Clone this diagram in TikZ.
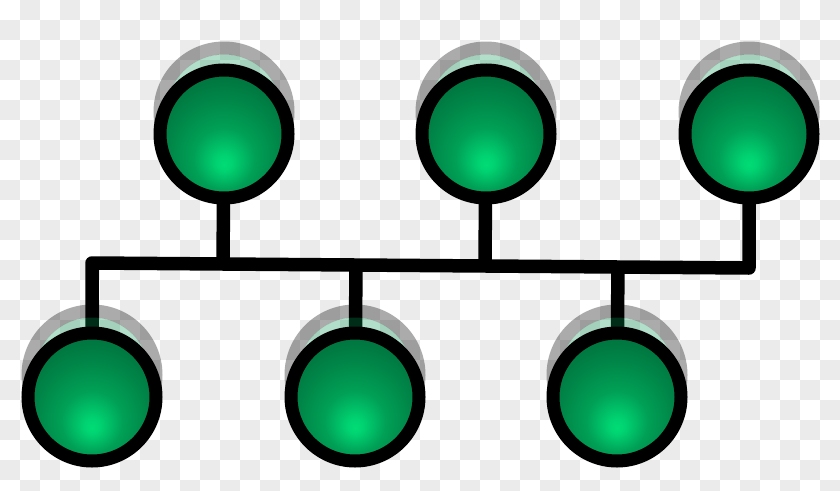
\documentclass[tikz,border=0pt]{standalone}
\usetikzlibrary{calc}
\definecolor{checkgray}{RGB}{235,235,235}
\definecolor{glowbright}{RGB}{0,220,118}
\definecolor{glowmid}{RGB}{0,160,86}
\definecolor{glowdark}{RGB}{0,106,57}
\definecolor{shadowgreen}{RGB}{0,150,80}
\pgfdeclareradialshading{nodeglow}{\pgfpoint{0bp}{-12bp}}{color(0bp)=(glowbright); color(3bp)=(glowbright!85!glowmid); color(12bp)=(glowmid); color(22bp)=(glowmid!50!glowdark); color(34bp)=(glowdark); color(60bp)=(glowdark)}
\tikzset{
  station/.style={circle, draw=black, line width=13pt, minimum size=128pt, inner sep=0pt, shading=nodeglow},
  wire/.style={line width=13.5pt, draw=black, line join=round},
}
\newcommand{\ghostshadow}[1]{%
  \fill[black, opacity=0.33, even odd rule] ($(#1)+(0,-22)$) circle (70.5pt) circle (57.5pt);
  \fill[shadowgreen, opacity=0.3] ($(#1)+(0,-22)$) circle (57.5pt);
}
\begin{document}
\begin{tikzpicture}[x=1pt,y=-1pt]
\useasboundingbox (0,0) rectangle (840,490);
\begin{scope}
\clip (0,0) rectangle (840,490);
\fill[white] (0,0) rectangle (840,490);
\foreach \i in {0,...,41} {
  \foreach \j in {0,...,24} {
    \pgfmathtruncatemacro\cellparity{mod(\i+\j,2)}
    \ifnum\cellparity=1 \fill[checkgray] (\i*20,\j*20) rectangle ++(20,20); \fi
  }
}
\end{scope}
% positions
\coordinate (t1) at (224,134);
\coordinate (t2) at (486,134);
\coordinate (t3) at (749,134);
\coordinate (b1) at (92,397);
\coordinate (b2) at (355,397);
\coordinate (b3) at (617,397);
\coordinate (busL) at (92,263);
\coordinate (busR) at (749,268);
% wires
\draw[wire] (b1) -- (busL) -- (busR) -- (t3);
\draw[wire] ($(busL)!(t1)!(busR)$) -- (t1);
\draw[wire] ($(busL)!(t2)!(busR)$) -- (t2);
\draw[wire] ($(busL)!(b2)!(busR)$) -- (b2);
\draw[wire] ($(busL)!(b3)!(busR)$) -- (b3);
% shadows
\ghostshadow{t1}
\ghostshadow{t2}
\ghostshadow{t3}
\ghostshadow{b1}
\ghostshadow{b2}
\ghostshadow{b3}
% stations
\node[station] (n1) at (t1) {};
\node[station] (n2) at (t2) {};
\node[station] (n3) at (t3) {};
\node[station] (n4) at (b1) {};
\node[station] (n5) at (b2) {};
\node[station] (n6) at (b3) {};
\end{tikzpicture}
\end{document}
